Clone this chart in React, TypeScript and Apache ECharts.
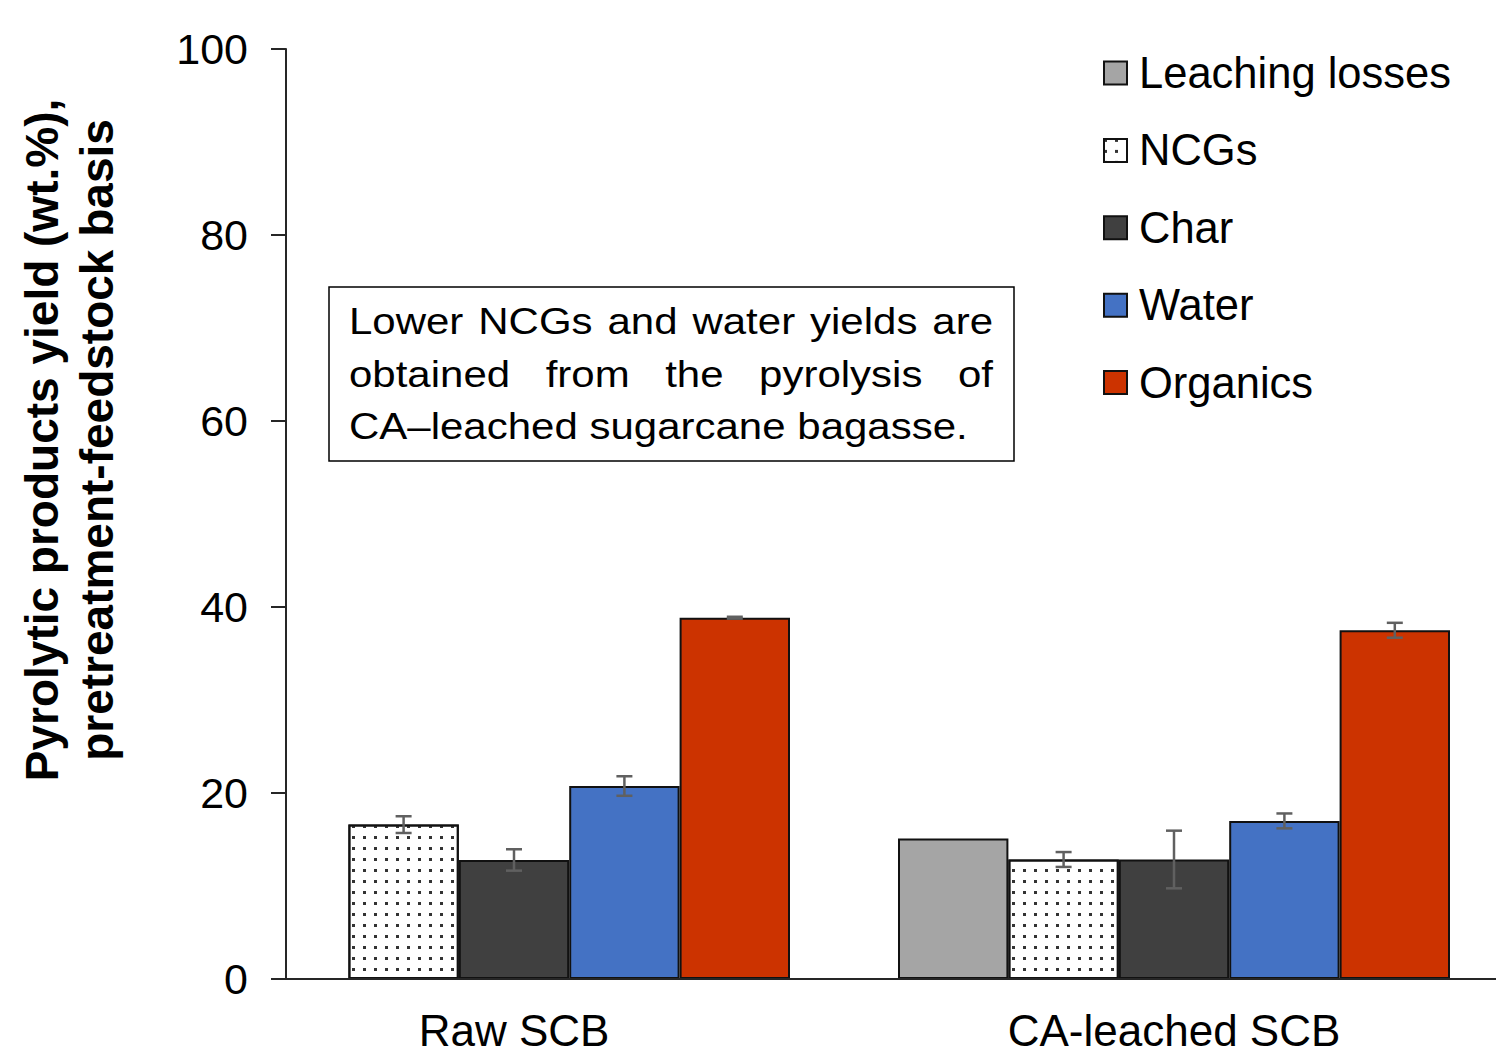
import React, { useEffect, useRef } from "react";
import * as echarts from "echarts";

const categories = ["Raw SCB", "CA-leached SCB"];
const seriesNames = ["Leaching losses", "NCGs", "Char", "Water", "Organics"];
const leaching = [null, 15.1];
const leachingErr = [null, null];
const ncgs = [16.6, 12.85];
const ncgsErr = [0.9, 0.8];
const charVals = [12.8, 12.85];
const charErr = [1.15, 3.1];
const water = [20.75, 17.0];
const waterErr = [1.05, 0.8];
const organics = [38.85, 37.5];
const organicsErr = [0.1, 0.8];
const yTicks = [0, 20, 40, 60, 80, 100];
const noteLines = [
  "Lower NCGs and water yields are",
  "obtained from the pyrolysis of",
  "CA\u2013leached sugarcane bagasse.",
];
const yTitle = ["Pyrolytic products yield (wt.%),", "pretreatment-feedstock basis"];

const FONT = "Liberation Sans, Arial, sans-serif";
const BAR_W = 110.4;
const GRID = { left: 184, top: 49, width: 1320, height: 930 };

export default function App() {
  const ref = useRef<HTMLDivElement>(null);
  useEffect(() => {
    if (!ref.current) return;
    const chart = echarts.init(ref.current, null, { renderer: "svg" });
    const values = [leaching, ncgs, charVals, water, organics];
    const errs = [leachingErr, ncgsErr, charErr, waterErr, organicsErr];
    const colors = ["#A5A5A5", "#FFFFFF", "#404040", "#4472C4", "#CC3300"];

    const errData: number[][] = [];
    values.forEach((vals, s) => {
      vals.forEach((v, c) => {
        const e = errs[s][c];
        if (v != null && e != null) errData.push([c, s, v as number, e as number]);
      });
    });

    const barSeries = seriesNames.map((name, i) => ({
      name,
      type: "bar",
      data: values[i],
      barWidth: BAR_W,
      barGap: "0%",
      itemStyle: {
        color: colors[i],
        borderColor: "#111",
        borderWidth: 2,
        ...(i === 1
          ? {
              decal: {
                symbol: "rect",
                symbolSize: 1,
                dashArrayX: [2.2, 7.4],
                dashArrayY: [2.2, 7.3],
                color: "#333",
                backgroundColor: "#ffffff",
                rotation: 0,
              },
            }
          : {}),
      },
    }));

    // annotation justified text
    const canvas = document.createElement("canvas");
    const ctx = canvas.getContext("2d")!;
    const noteFont = 42;
    ctx.font = `${noteFont}px "Liberation Sans"`;
    const lineLeft = 349;
    const lineRight = 993;
    const lineY = [321, 373.5, 426];
    const noteChildren: any[] = [];
    noteLines.forEach((line, li) => {
      const words = line.split(" ");
      const widths = words.map((w) => ctx.measureText(w).width);
      const total = widths.reduce((a, b) => a + b, 0);
      const justify = li < noteLines.length - 1;
      const gap = justify
        ? (lineRight - lineLeft - total) / (words.length - 1)
        : ctx.measureText(" ").width;
      let x = lineLeft;
      words.forEach((w, wi) => {
        noteChildren.push({
          type: "text",
          x,
          y: lineY[li],
          scaleY: 0.9,
          style: {
            text: w,
            font: `${noteFont}px ${FONT}`,
            fill: "#000",
            textAlign: "left",
            textVerticalAlign: "middle",
          },
        });
        x += widths[wi] + gap;
      });
    });

    const axisY = GRID.top + GRID.height;

    chart.setOption({
      animation: false,
      backgroundColor: "#fff",
      grid: { ...GRID },
      legend: {
        data: seriesNames,
        orient: "vertical",
        left: 1103,
        top: 51,
        padding: 0,
        icon: "rect",
        itemWidth: 23,
        itemHeight: 23,
        itemGap: 33.4,
        itemStyle: { borderColor: "#111", borderWidth: 2 },
        textStyle: {
          fontFamily: FONT,
          fontSize: 43.5,
          color: "#000",
          padding: [0, 0, 0, 7],
        },
      },
      xAxis: {
        type: "category",
        data: categories,
        axisLine: { show: false },
        axisTick: { show: false },
        axisLabel: {
          fontFamily: FONT,
          fontSize: 44,
          color: "#000",
          margin: 29,
        },
      },
      yAxis: {
        type: "value",
        min: yTicks[0],
        max: yTicks[yTicks.length - 1],
        interval: 20,
        offset: -102,
        axisLine: { show: true, lineStyle: { color: "#262626", width: 2 } },
        axisTick: { show: true, length: 15, lineStyle: { color: "#262626", width: 2 } },
        splitLine: { show: false },
        axisLabel: {
          fontFamily: FONT,
          fontSize: 43,
          color: "#000",
          margin: 38,
        },
      },
      series: [
        ...barSeries,
        {
          name: "errors",
          type: "custom",
          z: 5,
          data: errData,
          encode: { x: 0, y: 2 },
          renderItem: (params: any, api: any) => {
            const cat = api.value(0);
            const s = api.value(1);
            const v = api.value(2);
            const e = api.value(3);
            const base = api.coord([cat, v]);
            const x = base[0] + (s - 2) * BAR_W;
            const top = api.coord([cat, v + e])[1];
            const bot = api.coord([cat, v - e])[1];
            const cap = 8;
            const st = { stroke: "#606060", lineWidth: 2.5 };
            return {
              type: "group",
              children: [
                { type: "line", shape: { x1: x, y1: top, x2: x, y2: bot }, style: st },
                { type: "line", shape: { x1: x - cap, y1: top, x2: x + cap, y2: top }, style: st },
                { type: "line", shape: { x1: x - cap, y1: bot, x2: x + cap, y2: bot }, style: st },
              ],
            };
          },
        },
      ],
      graphic: [
        {
          type: "line",
          z: 10,
          shape: { x1: 271, y1: axisY, x2: 1504, y2: axisY },
          style: { stroke: "#262626", lineWidth: 2 },
        },
        {
          type: "rect",
          shape: { x: 329, y: 287, width: 685, height: 174 },
          style: { fill: "#fff", stroke: "#000", lineWidth: 1.5 },
        },
        { type: "group", children: noteChildren },
        {
          type: "text",
          x: 69.5,
          y: 440,
          rotation: Math.PI / 2,
          style: {
            text: yTitle.join("\n"),
            font: `bold 46px ${FONT}`,
            lineHeight: 55,
            fill: "#000",
            textAlign: "center",
            textVerticalAlign: "middle",
          },
        },
      ],
    });
    return () => chart.dispose();
  }, []);
  return (
    <div
      style={{
        position: "absolute",
        left: 0,
        top: 0,
        width: 1496,
        height: 1055,
        overflow: "hidden",
      }}
    >
      <div ref={ref} style={{ width: 1504, height: 1055 }} />
    </div>
  );
}
